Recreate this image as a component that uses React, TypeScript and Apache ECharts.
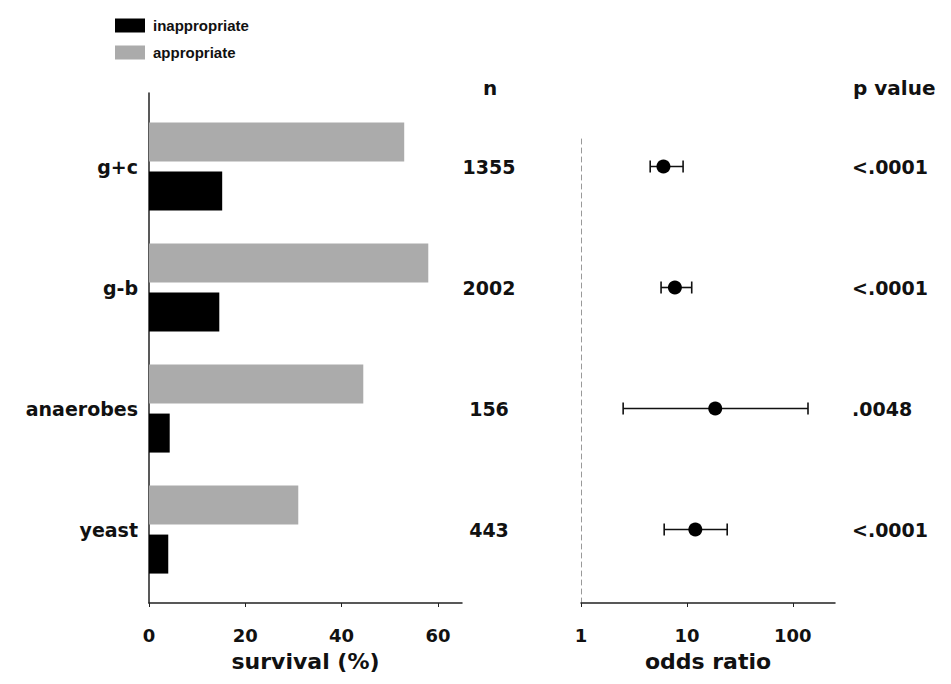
import React, { useEffect, useRef } from "react";
import * as echarts from "echarts";

const categories = ["g+c", "g-b", "anaerobes", "yeast"];
const appropriate = [53, 58, 44.5, 31];
const inappropriate = [15.2, 14.6, 4.3, 4.0];
const nValues = ["1355", "2002", "156", "443"];
const oddsRatio = [6.0, 7.7, 18.5, 12];
const ciLow = [4.5, 5.7, 2.5, 6.1];
const ciHigh = [9.2, 11.1, 139, 24];
const pValues = ["<.0001", "<.0001", ".0048", "<.0001"];
const survivalTicks = [0, 20, 40, 60];
const oddsTicks = [1, 10, 100];

const FONT = "DejaVu Sans";
const TXT = "#111";

export default function App() {
  const ref = useRef<HTMLDivElement>(null);
  useEffect(() => {
    if (!ref.current) return;
    const chart = echarts.init(ref.current, null, { renderer: "svg" });
    const baseText = { fontFamily: FONT, fontWeight: "bold", color: TXT };
    const hiddenAxisParts = {
      axisLine: { show: false },
      axisTick: { show: false },
      splitLine: { show: false },
    };
    chart.setOption({
      animation: false,
      backgroundColor: "#fff",
      legend: {
        orient: "vertical",
        left: 110,
        top: 13,
        itemWidth: 30,
        itemHeight: 14,
        itemGap: 12,
        icon: "rect",
        data: ["inappropriate", "appropriate"],
        textStyle: {
          fontFamily: "Liberation Sans",
          fontWeight: "bold",
          color: TXT,
          fontSize: 15,
          padding: [0, 0, 0, 3],
        },
      },
      graphic: [
        {
          type: "text",
          left: 483,
          top: 78,
          style: { text: "n", font: `bold 20px ${FONT}`, fill: TXT },
        },
        {
          type: "text",
          left: 853,
          top: 78,
          style: { text: "p value", font: `bold 20px ${FONT}`, fill: TXT },
        },
      ],
      grid: [
        { left: 149, top: 106, width: 313, height: 484 },
        { left: 149, top: 93, width: 313, height: 510 },
        { left: 581, top: 106, width: 254, height: 484 },
        { left: 581, top: 135, width: 254, height: 468 },
      ],
      xAxis: [
        { gridIndex: 0, type: "value", min: 0, max: 65, show: false },
        {
          gridIndex: 1,
          type: "value",
          min: 0,
          max: 65,
          name: "survival (%)",
          nameLocation: "middle",
          nameGap: 47,
          nameTextStyle: { ...baseText, fontSize: 22 },
          axisLine: { lineStyle: { color: "#222", width: 1.5 } },
          axisTick: {
            show: true,
            length: 4,
            customValues: survivalTicks,
            lineStyle: { color: "#222" },
          },
          axisLabel: {
            ...baseText,
            fontSize: 18,
            margin: 23,
            customValues: survivalTicks,
          },
          splitLine: { show: false },
        },
        { gridIndex: 2, type: "log", logBase: 10, min: 1, max: 250, show: false },
        {
          gridIndex: 3,
          type: "log",
          logBase: 10,
          min: 1,
          max: 250,
          name: "odds ratio",
          nameLocation: "middle",
          nameGap: 47,
          nameTextStyle: { ...baseText, fontSize: 22 },
          axisLine: { lineStyle: { color: "#222", width: 1.5 } },
          axisTick: {
            show: true,
            length: 4,
            customValues: oddsTicks,
            lineStyle: { color: "#222" },
          },
          minorTick: { show: false },
          axisLabel: {
            ...baseText,
            fontSize: 18,
            margin: 23,
            customValues: oddsTicks,
          },
          splitLine: { show: false },
        },
      ],
      yAxis: [
        {
          gridIndex: 0,
          type: "category",
          data: categories,
          inverse: true,
          ...hiddenAxisParts,
          axisLabel: { ...baseText, fontSize: 19, margin: 11 },
        },
        {
          gridIndex: 0,
          type: "category",
          data: nValues,
          inverse: true,
          position: "right",
          ...hiddenAxisParts,
          axisLabel: { ...baseText, fontSize: 19, margin: 27, align: "center" },
        },
        {
          gridIndex: 1,
          type: "value",
          min: 0,
          max: 1,
          axisLine: { show: true, lineStyle: { color: "#222", width: 1.5 } },
          axisTick: { show: false },
          axisLabel: { show: false },
          splitLine: { show: false },
        },
        {
          gridIndex: 2,
          type: "category",
          data: categories,
          inverse: true,
          show: false,
        },
        {
          gridIndex: 2,
          type: "category",
          data: pValues,
          inverse: true,
          position: "right",
          ...hiddenAxisParts,
          axisLabel: { ...baseText, fontSize: 19, margin: 17, align: "left" },
        },
        {
          gridIndex: 3,
          type: "value",
          min: 0,
          max: 1,
          axisLine: {
            show: true,
            lineStyle: { color: "#999", width: 1, type: [5, 4] },
          },
          axisTick: { show: false },
          axisLabel: { show: false },
          splitLine: { show: false },
        },
      ],
      series: [
        {
          name: "appropriate",
          type: "bar",
          xAxisIndex: 0,
          yAxisIndex: 0,
          data: appropriate,
          barWidth: 39,
          barGap: "26%",
          itemStyle: { color: "#ababab" },
        },
        {
          name: "inappropriate",
          type: "bar",
          xAxisIndex: 0,
          yAxisIndex: 0,
          data: inappropriate,
          barWidth: 39,
          barGap: "26%",
          itemStyle: { color: "#000" },
        },
        {
          name: "ci",
          type: "custom",
          xAxisIndex: 2,
          yAxisIndex: 3,
          data: categories.map((c, i) => [ciLow[i], i, ciHigh[i]]),
          encode: { x: [0, 2], y: 1 },
          renderItem: (params: any, api: any) => {
            const y = api.value(1);
            const p1 = api.coord([api.value(0), y]);
            const p2 = api.coord([api.value(2), y]);
            const h = 6;
            const st = { stroke: "#111", lineWidth: 1.6 };
            return {
              type: "group",
              children: [
                { type: "line", shape: { x1: p1[0], y1: p1[1], x2: p2[0], y2: p2[1] }, style: st },
                { type: "line", shape: { x1: p1[0], y1: p1[1] - h, x2: p1[0], y2: p1[1] + h }, style: st },
                { type: "line", shape: { x1: p2[0], y1: p2[1] - h, x2: p2[0], y2: p2[1] + h }, style: st },
              ],
            };
          },
          z: 2,
        },
        {
          name: "odds",
          type: "scatter",
          xAxisIndex: 2,
          yAxisIndex: 3,
          data: categories.map((c, i) => [oddsRatio[i], i]),
          symbol: "circle",
          symbolSize: 14,
          itemStyle: { color: "#000", opacity: 1 },
          z: 3,
        },
      ],
    });
    return () => chart.dispose();
  }, []);
  return (
    <div
      ref={ref}
      style={{ position: "fixed", left: 0, top: 0, width: 951, height: 684 }}
    />
  );
}
